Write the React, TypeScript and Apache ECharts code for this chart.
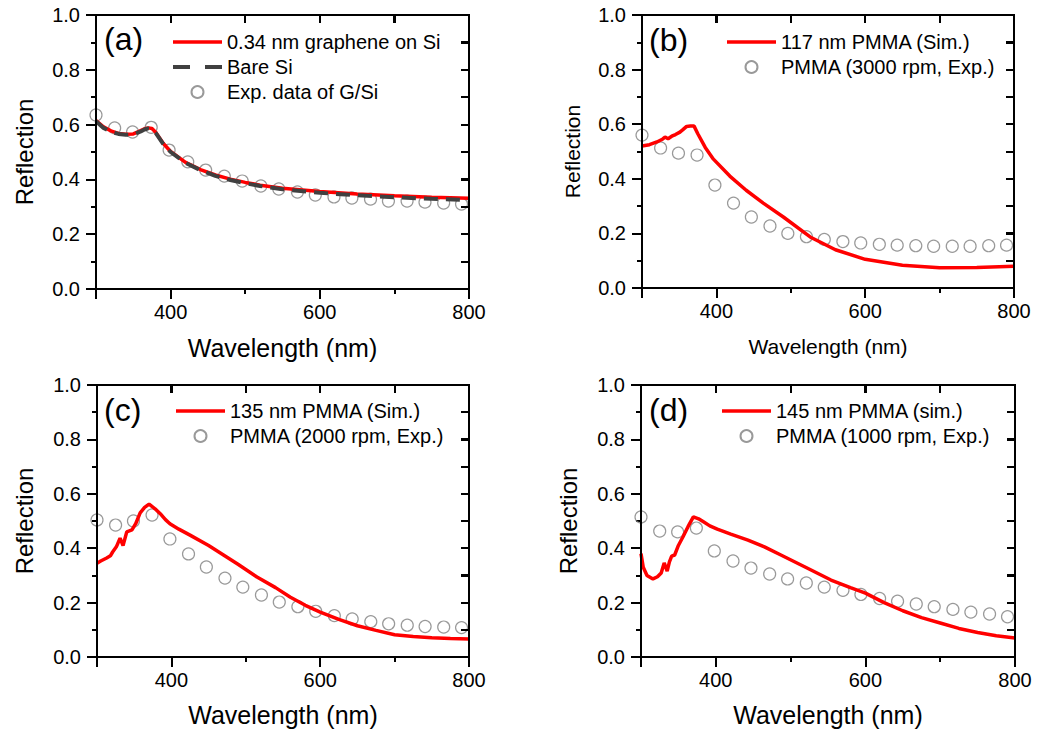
import React, { useEffect, useRef, useState } from "react";
import * as echarts from "echarts";

// ---------- data ----------
const expWl = [300, 325, 349, 374, 398, 423, 447, 472, 496, 521, 545, 570, 594, 619, 643, 668, 692, 717, 741, 766, 790];

// (a)
const wlA = [300, 310, 320, 330, 340, 350, 360, 365, 370, 375, 380, 390, 400, 420, 440, 460, 480, 500, 520, 550, 600, 650, 700, 750, 800];
const grapheneA = [0.615, 0.592, 0.577, 0.568, 0.565, 0.566, 0.578, 0.585, 0.588, 0.586, 0.572, 0.532, 0.502, 0.462, 0.436, 0.416, 0.401, 0.389, 0.379, 0.368, 0.356, 0.347, 0.340, 0.335, 0.331];
const bareSiA = [0.612, 0.588, 0.574, 0.566, 0.563, 0.564, 0.575, 0.582, 0.586, 0.584, 0.570, 0.530, 0.500, 0.460, 0.434, 0.413, 0.398, 0.386, 0.376, 0.364, 0.351, 0.342, 0.335, 0.329, 0.325];
const expA = [0.635, 0.588, 0.573, 0.59, 0.507, 0.464, 0.434, 0.412, 0.394, 0.376, 0.365, 0.354, 0.343, 0.336, 0.332, 0.328, 0.321, 0.321, 0.317, 0.314, 0.31];

// (b)
const wlB = [300, 310, 320, 328, 331, 335, 340, 345, 351, 355, 360, 365, 370, 375, 385, 396, 418, 440, 463, 490, 526, 560, 600, 650, 700, 750, 800];
const simB = [0.52, 0.525, 0.535, 0.546, 0.553, 0.547, 0.556, 0.562, 0.571, 0.58, 0.592, 0.593, 0.593, 0.565, 0.515, 0.472, 0.41, 0.358, 0.311, 0.26, 0.187, 0.14, 0.105, 0.083, 0.074, 0.075, 0.08];
const expB = [0.56, 0.513, 0.494, 0.487, 0.377, 0.311, 0.26, 0.227, 0.2, 0.188, 0.178, 0.17, 0.165, 0.16, 0.157, 0.155, 0.153, 0.153, 0.153, 0.155, 0.157];

// (c)
const wlC = [300, 305, 313, 318, 321, 326, 331, 335, 340, 347, 352, 358, 364, 370, 378, 385, 392, 398, 410, 425, 450, 470, 490, 515, 540, 560, 580, 600, 625, 650, 675, 700, 725, 750, 775, 800];
const simC = [0.345, 0.353, 0.364, 0.372, 0.386, 0.405, 0.437, 0.41, 0.46, 0.467, 0.49, 0.53, 0.55, 0.562, 0.545, 0.527, 0.505, 0.49, 0.47, 0.448, 0.41, 0.375, 0.34, 0.294, 0.255, 0.22, 0.19, 0.165, 0.138, 0.115, 0.098, 0.082, 0.075, 0.071, 0.068, 0.066];
const expC = [0.504, 0.485, 0.5, 0.522, 0.434, 0.379, 0.331, 0.29, 0.257, 0.228, 0.202, 0.185, 0.168, 0.152, 0.14, 0.13, 0.122, 0.117, 0.112, 0.11, 0.108];

// (d)
const wlD = [300, 303, 308, 316, 322, 327, 331, 335, 338, 341, 345, 350, 356, 363, 370, 377, 384, 392, 402, 420, 443, 465, 487, 520, 554, 580, 600, 625, 650, 675, 700, 725, 750, 775, 800];
const simD = [0.38, 0.33, 0.30, 0.287, 0.295, 0.309, 0.346, 0.316, 0.35, 0.371, 0.375, 0.41, 0.441, 0.48, 0.515, 0.508, 0.496, 0.482, 0.47, 0.452, 0.43, 0.405, 0.375, 0.33, 0.283, 0.255, 0.235, 0.2, 0.17, 0.145, 0.125, 0.105, 0.09, 0.078, 0.07];
const expD = [0.515, 0.463, 0.46, 0.474, 0.39, 0.353, 0.327, 0.305, 0.287, 0.272, 0.257, 0.245, 0.23, 0.215, 0.205, 0.195, 0.185, 0.175, 0.165, 0.158, 0.148];

const xLabels = [400, 600, 800];
const xMajor = [300, 400, 600, 800];
const xMinor = [500, 700];
const topTickValues = [400, 500, 600, 700];
const rightTickValues = [0.1, 0.2, 0.3, 0.4, 0.5, 0.6, 0.7, 0.8, 0.9];

const pairs = (xs: number[], ys: number[]) => xs.map((x, i) => [x, ys[i]]);

const FONT = "Liberation Sans, Arial, sans-serif";
const SOLID_ICON = "path://M0,0 M0,12 M0,4.2 H49 V7.8 H0 Z";
const DASH_ICON = "path://M0,0 M0,12 M0,4 H17 V8 H0 Z M32,4 H49 V8 H32 Z";

type Panel = {
  box: { left: number; top: number; width: number; height: number };
  grid: { left: number; top: number; width: number; height: number };
  xName: number; xGap: number; yName: number; yGap: number;
  tag: string; tagX: number; tagY: number; legendX: number; legendY: number;
  lines: { name: string; xs: number[]; ys: number[]; color: string; width: number; dash?: number[]; icon: string }[];
  exp: { name: string; ys: number[] };
};

const PANELS: Panel[] = [
  {
    box: { left: 0, top: 0, width: 518, height: 370 },
    grid: { left: 96, top: 15, width: 373, height: 274 },
    xName: 25, xGap: 46, yName: 24, yGap: 60, tag: "(a)", tagX: 104, tagY: 42, legendX: 173, legendY: 32,
    lines: [
      { name: "0.34 nm graphene on Si", xs: wlA, ys: grapheneA, color: "#ff0000", width: 3.5, icon: SOLID_ICON },
      { name: "Bare Si", xs: wlA, ys: bareSiA, color: "#404040", width: 4, dash: [14, 8], icon: DASH_ICON },
    ],
    exp: { name: "Exp. data of G/Si", ys: expA },
  },
  {
    box: { left: 518, top: 0, width: 519, height: 370 },
    grid: { left: 124, top: 15, width: 372, height: 273 },
    xName: 21, xGap: 48, yName: 21, yGap: 59, tag: "(b)", tagX: 131, tagY: 43, legendX: 209, legendY: 32,
    lines: [{ name: "117 nm PMMA (Sim.)", xs: wlB, ys: simB, color: "#ff0000", width: 3.5, icon: SOLID_ICON }],
    exp: { name: "PMMA (3000 rpm, Exp.)", ys: expB },
  },
  {
    box: { left: 0, top: 370, width: 518, height: 370 },
    grid: { left: 97, top: 15, width: 372, height: 272 },
    xName: 25, xGap: 45, yName: 24, yGap: 61, tag: "(c)", tagX: 104, tagY: 43, legendX: 176, legendY: 31,
    lines: [{ name: "135 nm PMMA (Sim.)", xs: wlC, ys: simC, color: "#ff0000", width: 3.5, icon: SOLID_ICON }],
    exp: { name: "PMMA (2000 rpm, Exp.)", ys: expC },
  },
  {
    box: { left: 518, top: 370, width: 519, height: 370 },
    grid: { left: 123, top: 15, width: 374, height: 272 },
    xName: 25, xGap: 45, yName: 24, yGap: 61, tag: "(d)", tagX: 131, tagY: 43, legendX: 204, legendY: 31,
    lines: [{ name: "145 nm PMMA (sim.)", xs: wlD, ys: simD, color: "#ff0000", width: 3.5, icon: SOLID_ICON }],
    exp: { name: "PMMA (1000 rpm, Exp.)", ys: expD },
  },
];

function buildOption(p: Panel) {
  const ls = () => ({ color: "#000", width: 2 });
  const xAxis = [
    {
      type: "value", min: 300, max: 800, interval: 100, position: "bottom",
      name: "Wavelength (nm)", nameLocation: "middle", nameGap: p.xGap,
      nameTextStyle: { fontFamily: FONT, fontSize: p.xName, color: "#000" },
      axisLine: { show: true, onZero: false, lineStyle: ls() },
      axisTick: { show: true, customValues: [...xMajor], length: 10, lineStyle: ls() },
      axisLabel: { customValues: [...xLabels], fontFamily: FONT, fontSize: 20, color: "#000", margin: 13 },
      splitLine: { show: false },
    },
    {
      type: "value", min: 300, max: 800, interval: 100, position: "top",
      axisLine: { show: true, onZero: false, lineStyle: ls() },
      axisTick: { show: true, inside: true, length: 8, lineStyle: ls() },
      axisLabel: { show: false }, splitLine: { show: false },
    },
    {
      type: "value", min: 300, max: 800, interval: 100, position: "bottom",
      axisLine: { show: false, onZero: false },
      axisTick: { show: true, customValues: [...xMinor], length: 5, lineStyle: ls() },
      axisLabel: { show: false }, splitLine: { show: false },
    },
  ];
  const yAxis = [
    {
      type: "value", min: 0, max: 1, interval: 0.2, position: "left",
      name: "Reflection", nameLocation: "middle", nameGap: p.yGap,
      nameTextStyle: { fontFamily: FONT, fontSize: p.yName, color: "#000" },
      axisLine: { show: true, onZero: false, lineStyle: ls() },
      axisTick: { show: true, length: 10, lineStyle: ls() },
      minorTick: { show: true, splitNumber: 2, length: 5, lineStyle: ls() },
      axisLabel: { fontFamily: FONT, fontSize: 20, color: "#000", margin: 16, formatter: (v: number) => v.toFixed(1) },
      splitLine: { show: false }, minorSplitLine: { show: false },
    },
    {
      type: "value", min: 0, max: 1, interval: 0.1, position: "right",
      axisLine: { show: true, onZero: false, lineStyle: ls() },
      axisTick: { show: true, inside: true, length: 8, lineStyle: ls() },
      axisLabel: { show: false }, splitLine: { show: false },
    },
  ];
  const series: any[] = p.lines.map((l) => ({
    name: l.name, type: "line", data: pairs(l.xs, l.ys), symbol: "none", showSymbol: false,
    lineStyle: { color: l.color, width: l.width, type: l.dash ? l.dash : "solid" },
    itemStyle: { color: l.color },
  }));
  series.push({
    name: p.exp.name, type: "scatter", data: pairs(expWl, p.exp.ys), symbol: "circle", symbolSize: 12,
    itemStyle: { color: "rgba(255,255,255,0)", borderColor: "#7f7f7f", borderWidth: 1.2 },
  });
  const legendData: any[] = p.lines.map((l) => ({ name: l.name, icon: l.icon, itemStyle: { color: l.color, borderWidth: 0 } }));
  legendData.push({ name: p.exp.name });
  return {
    animation: false,
    grid: { ...p.grid },
    xAxis, yAxis, series,
    legend: {
      orient: "vertical", left: p.legendX, top: p.legendY, padding: 0,
      itemWidth: 49, itemHeight: 12, itemGap: 5, selectedMode: false, data: legendData,
      textStyle: { fontFamily: FONT, fontSize: 20, color: "#000", lineHeight: 20 },
    },
    graphic: [{ type: "text", left: p.tagX, top: p.tagY - 19, style: { text: p.tag, fontFamily: FONT, fontSize: 32, fill: "#000" } }],
  };
}

type Overlay = { x0: number; x1: number; y0: number; y1: number; top: number[]; right: number[] };

function PanelChart({ p }: { p: Panel }) {
  const ref = useRef<HTMLDivElement>(null);
  const [ov, setOv] = useState<Overlay | null>(null);
  useEffect(() => {
    const chart = echarts.init(ref.current!, null, { renderer: "svg" });
    chart.setOption(buildOption(p) as any);
    // frame + inward ticks placed from the chart's own axis scales
    const px = (v: number) => chart.convertToPixel({ xAxisIndex: 0 }, v) as number;
    const py = (v: number) => chart.convertToPixel({ yAxisIndex: 0 }, v) as number;
    setOv({
      x0: px(300), x1: px(800), y0: py(0), y1: py(1),
      top: topTickValues.map(px), right: rightTickValues.map(py),
    });
    return () => chart.dispose();
  }, [p]);
  return (
    <div style={{ position: "fixed", ...p.box }}>
      <div ref={ref} style={{ position: "absolute", left: 0, top: 0, width: p.box.width, height: p.box.height }} />
      {ov && (
        <div style={{ position: "absolute", left: 0, top: 0, width: p.box.width, height: p.box.height, pointerEvents: "none" }}>
          <div style={{ position: "absolute", boxSizing: "border-box", left: ov.x0 - 1, top: ov.y1 - 1, width: ov.x1 - ov.x0 + 2, height: ov.y0 - ov.y1 + 2, border: "2px solid #000" }} />
          {ov.top.map((t, i) => (
            <div key={"t" + i} style={{ position: "absolute", left: t - 1, top: ov.y1, width: 2, height: 8, background: "#000" }} />
          ))}
          {ov.right.map((t, i) => (
            <div key={"r" + i} style={{ position: "absolute", left: ov.x1 - 8, top: t - 1, width: 8, height: 2, background: "#000" }} />
          ))}
        </div>
      )}
    </div>
  );
}

export default function App() {
  return (
    <div style={{ position: "fixed", left: 0, top: 0, width: 1037, height: 740, background: "#fff" }}>
      {PANELS.map((p) => <PanelChart key={p.tag} p={p} />)}
    </div>
  );
}
